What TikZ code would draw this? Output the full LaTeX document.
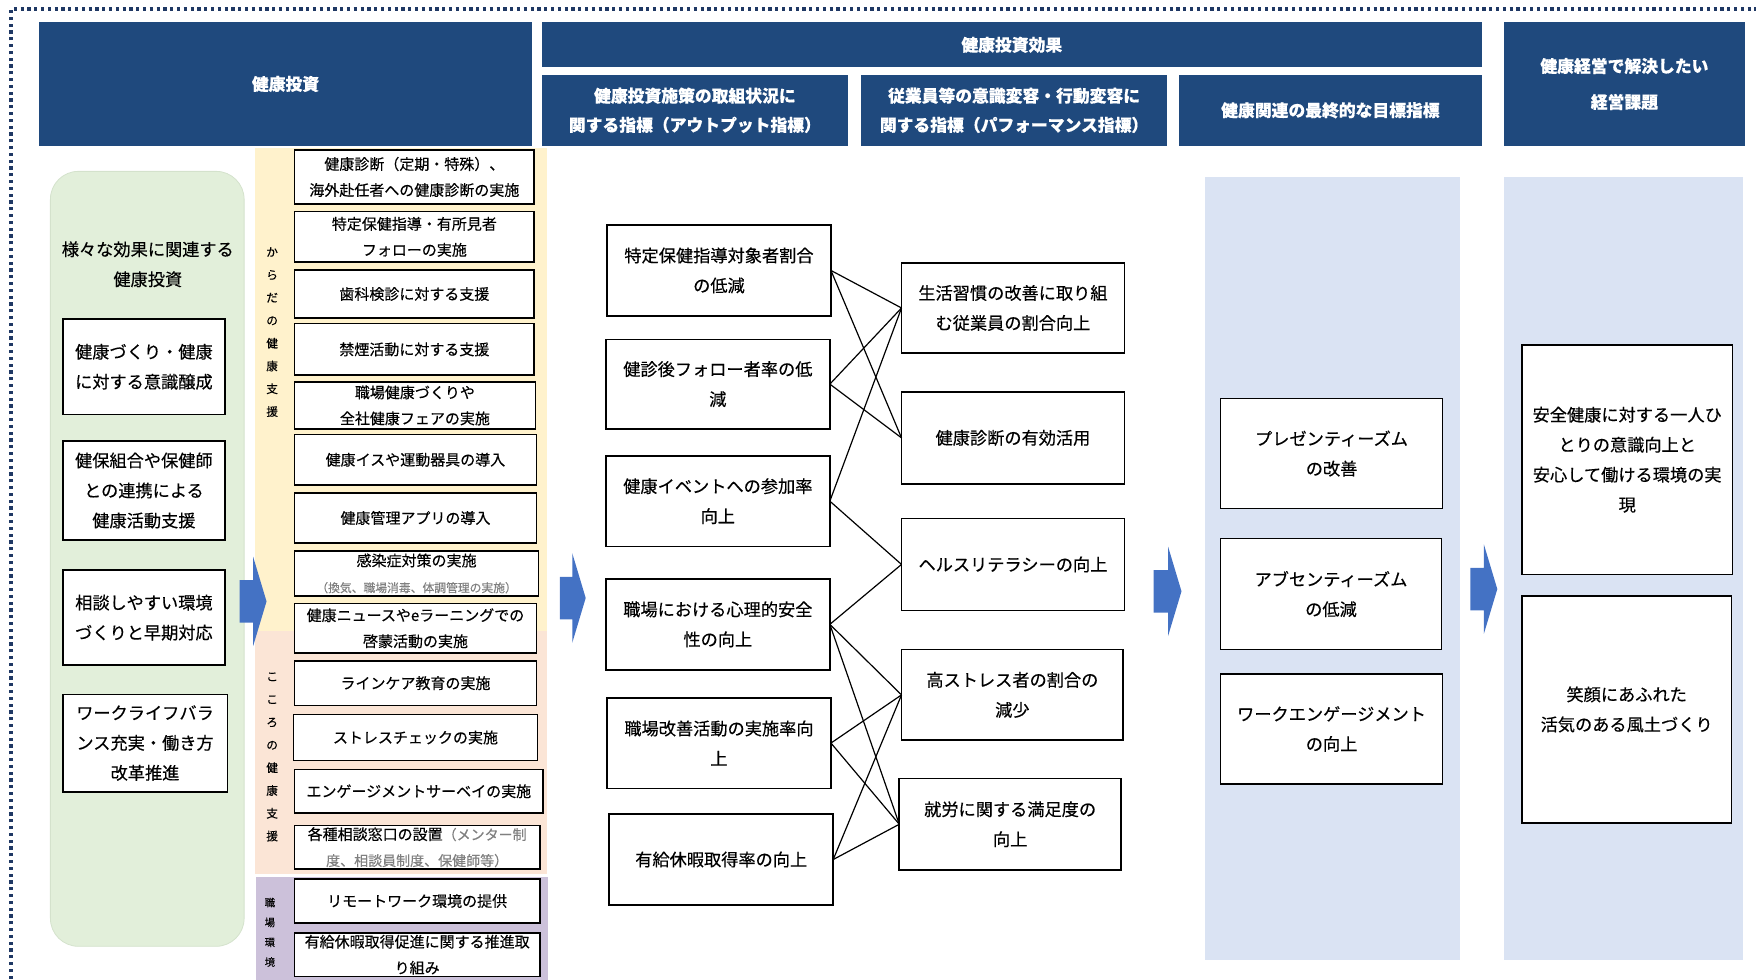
\documentclass[tikz,border=0pt]{standalone}
\usepackage{fontspec}
\setmainfont{Noto Sans CJK JP}[FakeBold=0.35]
\definecolor{headblue}{RGB}{31,73,125}
\definecolor{dotblue}{RGB}{31,56,100}
\definecolor{greenbg}{RGB}{226,239,218}
\definecolor{greenline}{RGB}{212,226,204}
\definecolor{yellowbg}{RGB}{255,242,204}
\definecolor{peachbg}{RGB}{251,229,214}
\definecolor{purplebg}{RGB}{204,193,218}
\definecolor{bluebg}{RGB}{218,227,243}
\definecolor{arrowblue}{RGB}{68,114,196}

\begin{document}
\begin{tikzpicture}[x=0.56pt,y=-0.56pt,
sz/.style 2 args={minimum width=#1*0.56pt,minimum height=#2*0.56pt},
hdr/.style={fill=headblue,text=white,inner sep=0pt,align=center,font=\bfseries\fontsize{8.4}{14.6}\selectfont},
box/.style={draw,line width=0.8pt,fill=white,inner sep=0pt,outer sep=0pt,align=center,font=\fontsize{8.6}{15}\selectfont},
kbox/.style={box,font=\fontsize{7.5}{13}\selectfont},
vlbl/.style={inner sep=0pt,align=center,font=\fontsize{5.8}{11.4}\selectfont},
link/.style={line width=0.6pt},
barrow/.style={fill=arrowblue}]
\useasboundingbox (0,0) rectangle (1568,875);
\draw[dotblue,line width=1.8pt,dash pattern=on 1.6pt off 1.8pt] (10,880) -- (10,8) -- (1575,8);

\node[hdr,sz={440}{110}] (inv)   at (255,75)     {健康投資};
\node[hdr,sz={839}{40}]  (eff)   at (903.5,40)   {健康投資効果};
\node[hdr,sz={273}{63}]  (out)   at (620.5,98.5) {健康投資施策の取組状況に\\関する指標（アウトプット指標）};
\node[hdr,sz={273}{63}]  (perf)  at (905.5,98.5) {従業員等の意識変容・行動変容に\\関する指標（パフォーマンス指標）};
\node[hdr,sz={270}{63}]  (goal)  at (1188,98.5)  {健康関連の最終的な目標指標};
\node[hdr,sz={215}{110},font=\bfseries\fontsize{8.4}{18}\selectfont] (issue) at (1450.5,75) {健康経営で解決したい\\経営課題};

\draw[fill=greenbg,draw=greenline,rounded corners=14pt] (45,153) rectangle (218,845);
\fill[yellowbg] (228,132) rectangle (488,563);
\fill[peachbg] (228,563) rectangle (488,780);
\fill[purplebg] (229,783) rectangle (489,875);
\fill[bluebg] (1076,158) rectangle (1304,857);
\fill[bluebg] (1343,158) rectangle (1556,857);

\foreach \xa/\xm/\xt/\yc in {214/226/238/537,500/511/523/534,1030/1043/1055/528,1313/1325/1337/526}
  \fill[barrow] (\xa,\yc-19) -- (\xm,\yc-19) -- (\xm,\yc-40) -- (\xt,\yc) -- (\xm,\yc+40) -- (\xm,\yc+19) -- (\xa,\yc+19) -- cycle;

\node[align=center,font=\fontsize{8.6}{15}\selectfont] (gtitle) at (132,236) {様々な効果に関連する\\健康投資};
\node[box,sz={145}{85}] (g1) at (128.5,327.5) {健康づくり・健康\\に対する意識醸成};
\node[box,sz={145}{88}] (g2) at (128.5,438)   {健保組合や保健師\\との連携による\\健康活動支援};
\node[box,sz={145}{85}] (g3) at (128.5,551.5) {相談しやすい環境\\づくりと早期対応};
\node[box,sz={147}{87}] (g4) at (129.5,663.5) {ワークライフバラ\\ンス充実・働き方\\改革推進};

\node[vlbl] (vbody) at (243,296.5) {か\\ら\\だ\\の\\健\\康\\支\\援};
\node[vlbl] (vmind) at (243,676)   {こ\\こ\\ろ\\の\\健\\康\\支\\援};
\node[vlbl,font=\fontsize{5.2}{9.9}\selectfont] (vwork) at (241,832.5) {職\\場\\環\\境};

\node[kbox,sz={214}{48},anchor=west] (k1)  at (263,158)   {健康診断（定期・特殊）、\\海外赴任者への健康診断の実施};
\node[kbox,sz={214}{45},anchor=west] (k2)  at (263,211.5) {特定保健指導・有所見者\\フォローの実施};
\node[kbox,sz={214}{43},anchor=west] (k3)  at (263,262.5) {歯科検診に対する支援};
\node[kbox,sz={214}{46},anchor=west] (k4)  at (263,312)   {禁煙活動に対する支援};
\node[kbox,sz={215}{42},anchor=west] (k5)  at (263,362)   {職場健康づくりや\\全社健康フェアの実施};
\node[kbox,sz={216}{45},anchor=west] (k6)  at (263,410.5) {健康イスや運動器具の導入};
\node[kbox,sz={216}{45},anchor=west] (k7)  at (263,462.5) {健康管理アプリの導入};
\node[kbox,sz={218}{40},anchor=west] (k8)  at (263,512)   {感染症対策の実施\\{\color{gray}\fontsize{5.9}{10}\selectfont（換気、職場消毒、体調管理の実施）}};
\node[kbox,sz={216}{44},anchor=west] (k9)  at (263,561)   {健康ニュースやeラーニングでの\\啓蒙活動の実施};
\node[kbox,sz={216}{40},anchor=west] (k10) at (263,610)   {ラインケア教育の実施};
\node[kbox,sz={218}{41},anchor=west] (k11) at (262,658.5) {ストレスチェックの実施};
\node[kbox,sz={222}{39},anchor=west] (k12) at (263,706.5) {エンゲージメントサーベイの実施};
\node[kbox,sz={219}{39},anchor=west] (k13) at (263,756.5) {各種相談窓口の設置{\color{gray}\fontsize{7}{13}\selectfont（メンター制}\\{\color{gray}\fontsize{7}{13}\selectfont 度、相談員制度、保健師等）}};
\node[kbox,sz={219}{39},anchor=west] (k14) at (263,804.5) {リモートワーク環境の提供};
\node[kbox,sz={219}{39},anchor=west] (k15) at (263,852.5) {有給休暇取得促進に関する推進取\\り組み};

\node[box,sz={200}{81}] (a1) at (642,241.5) {特定保健指導対象者割合\\の低減};
\node[box,sz={200}{80}] (a2) at (641,343)   {健診後フォロー者率の低\\減};
\node[box,sz={200}{81}] (a3) at (641,447.5) {健康イベントへの参加率\\向上};
\node[box,sz={200}{81}] (a4) at (641,557.5) {職場における心理的安全\\性の向上};
\node[box,sz={200}{81}] (a5) at (642,663.5) {職場改善活動の実施率向\\上};
\node[box,sz={200}{81}] (a6) at (644,767.5) {有給休暇取得率の向上};

\node[box,sz={199}{80}] (b1) at (904.5,275) {生活習慣の改善に取り組\\む従業員の割合向上};
\node[box,sz={199}{82}] (b2) at (904.5,391) {健康診断の有効活用};
\node[box,sz={199}{82}] (b3) at (904.5,504) {ヘルスリテラシーの向上};
\node[box,sz={198}{81}] (b4) at (904,620.5) {高ストレス者の割合の\\減少};
\node[box,sz={198}{82}] (b5) at (902,736)   {就労に関する満足度の\\向上};

\node[box,sz={198}{98}]  (c1) at (1189,405)    {プレゼンティーズム\\の改善};
\node[box,sz={197}{99}]  (c2) at (1188.5,530.5) {アブセンティーズム\\の低減};
\node[box,sz={198}{98}]  (c3) at (1189,651)    {ワークエンゲージメント\\の向上};
\node[box,sz={188}{205}] (d1) at (1453,410.5)  {安全健康に対する一人ひ\\とりの意識向上と\\安心して働ける環境の実\\現};
\node[box,sz={187}{203}] (d2) at (1452.5,633.5) {笑顔にあふれた\\活気のある風土づくり};

\draw[link] (a1.east) edge (b1.west)
      (a1.east) edge (b2.west)
      (a2.east) edge (b1.west)
      (a2.east) edge (b2.west)
      (a3.east) edge (b1.west)
      (a3.east) edge (b3.west)
      (a4.east) edge (b3.west)
      (a4.east) edge (b4.west)
      (a4.east) edge (b5.west)
      (a5.east) edge (b4.west)
      (a5.east) edge (b5.west)
      (a6.east) edge (b4.west)
      (a6.east) edge (b5.west);
\end{tikzpicture}
\end{document}
